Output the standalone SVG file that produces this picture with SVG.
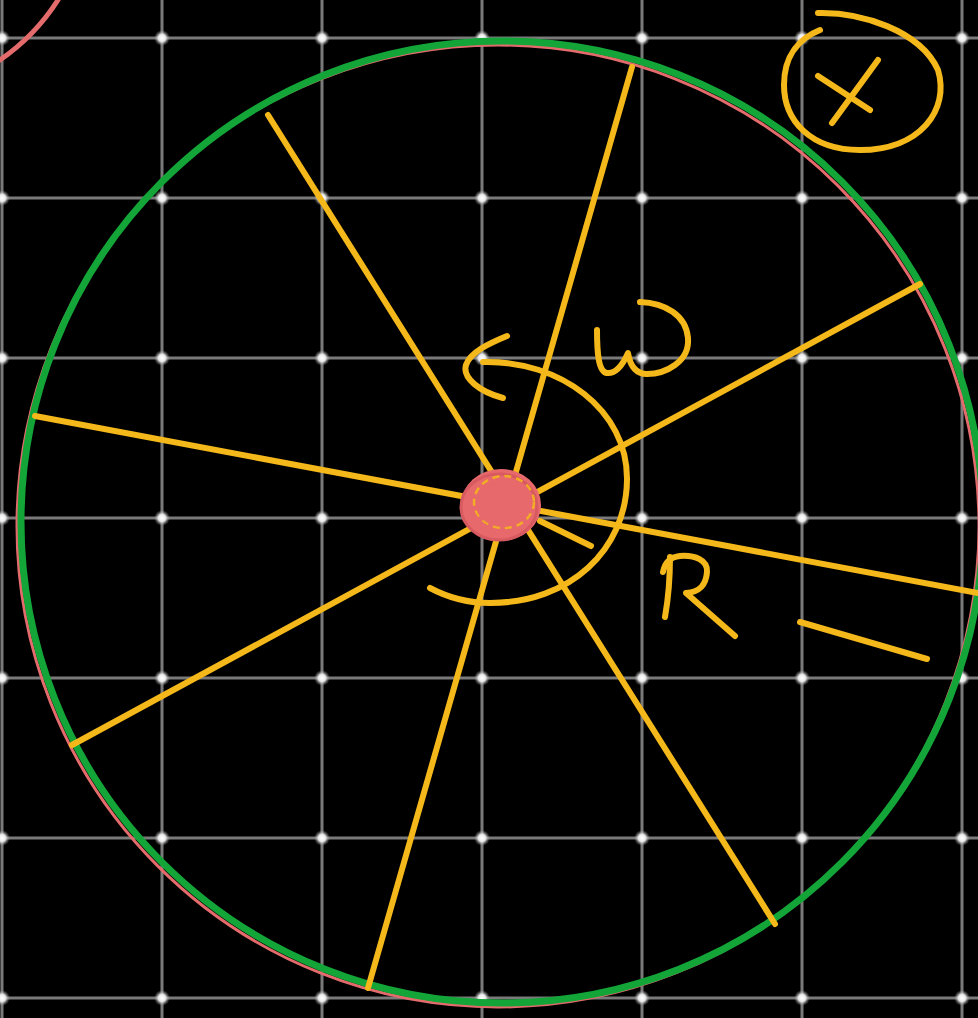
<svg xmlns="http://www.w3.org/2000/svg" width="978" height="1018" viewBox="0 0 978 1018">
<defs>
<radialGradient id="dotg">
<stop offset="0" stop-color="#ffffff"/>
<stop offset="0.45" stop-color="#e8e8e8"/>
<stop offset="1" stop-color="#888888" stop-opacity="0"/>
</radialGradient>
<style>
.grid{stroke:#7a7a7a;stroke-width:3;fill:none}
.y{stroke:#f4b81a;stroke-width:6;fill:none;stroke-linecap:round;stroke-linejoin:round}
.dot{fill:url(#dotg)}
</style>
</defs>
<rect x="0" y="0" width="978" height="1018" fill="#000"/>
<g id="grid">
<path class="grid" d="M2,0V1018M162,0V1018M322,0V1018M482,0V1018M642,0V1018M802,0V1018M962,0V1018M0,38H978M0,198H978M0,358H978M0,518H978M0,678H978M0,838H978M0,998H978"/>
<g id="dots">
<circle class="dot" cx="2" cy="38" r="8"/><circle class="dot" cx="162" cy="38" r="8"/><circle class="dot" cx="322" cy="38" r="8"/><circle class="dot" cx="482" cy="38" r="8"/><circle class="dot" cx="642" cy="38" r="8"/><circle class="dot" cx="802" cy="38" r="8"/><circle class="dot" cx="962" cy="38" r="8"/>
<circle class="dot" cx="2" cy="198" r="8"/><circle class="dot" cx="162" cy="198" r="8"/><circle class="dot" cx="322" cy="198" r="8"/><circle class="dot" cx="482" cy="198" r="8"/><circle class="dot" cx="642" cy="198" r="8"/><circle class="dot" cx="802" cy="198" r="8"/><circle class="dot" cx="962" cy="198" r="8"/>
<circle class="dot" cx="2" cy="358" r="8"/><circle class="dot" cx="162" cy="358" r="8"/><circle class="dot" cx="322" cy="358" r="8"/><circle class="dot" cx="482" cy="358" r="8"/><circle class="dot" cx="642" cy="358" r="8"/><circle class="dot" cx="802" cy="358" r="8"/><circle class="dot" cx="962" cy="358" r="8"/>
<circle class="dot" cx="2" cy="518" r="8"/><circle class="dot" cx="162" cy="518" r="8"/><circle class="dot" cx="322" cy="518" r="8"/><circle class="dot" cx="482" cy="518" r="8"/><circle class="dot" cx="642" cy="518" r="8"/><circle class="dot" cx="802" cy="518" r="8"/><circle class="dot" cx="962" cy="518" r="8"/>
<circle class="dot" cx="2" cy="678" r="8"/><circle class="dot" cx="162" cy="678" r="8"/><circle class="dot" cx="322" cy="678" r="8"/><circle class="dot" cx="482" cy="678" r="8"/><circle class="dot" cx="642" cy="678" r="8"/><circle class="dot" cx="802" cy="678" r="8"/><circle class="dot" cx="962" cy="678" r="8"/>
<circle class="dot" cx="2" cy="838" r="8"/><circle class="dot" cx="162" cy="838" r="8"/><circle class="dot" cx="322" cy="838" r="8"/><circle class="dot" cx="482" cy="838" r="8"/><circle class="dot" cx="642" cy="838" r="8"/><circle class="dot" cx="802" cy="838" r="8"/><circle class="dot" cx="962" cy="838" r="8"/>
<circle class="dot" cx="2" cy="998" r="8"/><circle class="dot" cx="162" cy="998" r="8"/><circle class="dot" cx="322" cy="998" r="8"/><circle class="dot" cx="482" cy="998" r="8"/><circle class="dot" cx="642" cy="998" r="8"/><circle class="dot" cx="802" cy="998" r="8"/><circle class="dot" cx="962" cy="998" r="8"/>
</g>
</g>
<g id="corner-arc">
<path d="M0,60 Q35,36 58,0" fill="none" stroke="#e46b6c" stroke-width="5" stroke-linecap="round"/>
</g>
<g id="wheel-rim">
<circle cx="498" cy="526" r="481" fill="none" stroke="#e46b6c" stroke-width="3"/>
<circle cx="502" cy="522" r="481" fill="none" stroke="#13a538" stroke-width="7"/>
</g>
<g id="spokes">
<line class="y" x1="268" y1="115" x2="775" y2="924"/>
<line class="y" x1="632" y1="67" x2="368" y2="988"/>
<line class="y" x1="35" y1="416" x2="978" y2="593"/>
<line class="y" x1="72" y1="745" x2="920" y2="284"/>
<line class="y" x1="540" y1="521" x2="591" y2="546"/>
</g>
<g id="hub">
<ellipse cx="501" cy="505" rx="40" ry="36" fill="#e8696b"/>
<ellipse cx="499" cy="507" rx="38" ry="33" fill="none" stroke="#d75a60" stroke-width="3"/>
<ellipse cx="504" cy="502" rx="30" ry="26" fill="none" stroke="#f4b81a" stroke-width="2.5" stroke-dasharray="7 5" opacity="0.85"/>
<ellipse cx="502" cy="505" rx="26" ry="22" fill="#e8696b" opacity="0.7"/>
</g>
<g id="rotation">
<path class="y" d="M483,362 C560,360 628,410 627,480 C626,550 570,603 490,603 C465,603 445,596 430,588"/>
<path class="y" d="M507,336 C490,343 470,352 466,365 C462,378 480,392 503,398"/>
</g>
<g id="omega">
<path class="y" d="M597,330 C597,350 598,372 607,373 C617,374 624,362 628,353 C630,365 635,374 647,374 C665,374 690,362 688,338 C686,315 665,303 640,302"/>
</g>
<g id="R-label">
<path class="y" d="M670,557 C670,575 668,600 665,617"/>
<path class="y" d="M663,572 C665,562 670,557 680,556 C695,555 708,560 707,572 C706,585 700,592 686,593 L735,636"/>
<line class="y" x1="800" y1="622" x2="927" y2="659"/>
</g>
<g id="axis-mark">
<path class="y" d="M818,13 C860,12 920,30 938,70 C950,110 920,150 860,150 C810,150 784,120 784,85 C784,55 800,38 820,30"/>
<line class="y" x1="818" y1="76" x2="870" y2="110"/>
<line class="y" x1="878" y1="60" x2="832" y2="123"/>
</g>
</svg>
